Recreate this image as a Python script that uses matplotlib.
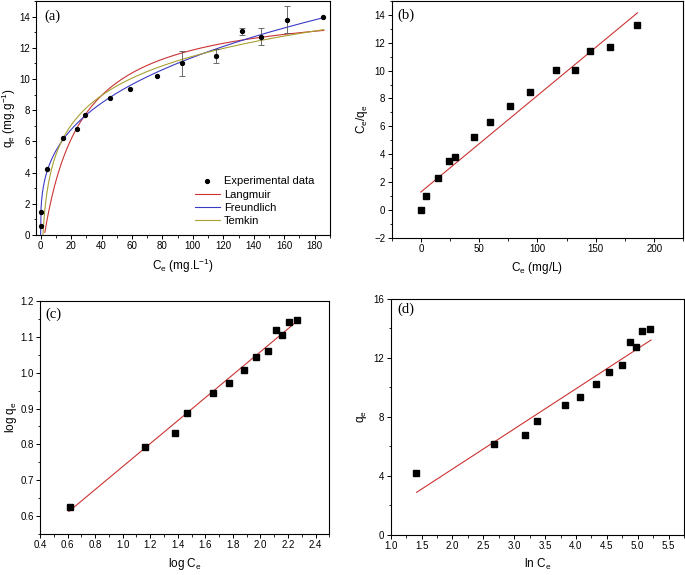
import numpy as np
import matplotlib
matplotlib.use("Agg")
import matplotlib.pyplot as plt
from matplotlib.ticker import MultipleLocator, FormatStrFormatter

plt.rcParams['font.family'] = ['Liberation Sans', 'DejaVu Sans']
plt.rcParams['mathtext.default'] = 'regular'

# (a) equilibrium data
ce = [0.1, 0.2, 4.1, 14.5, 24.0, 29.3, 45.5, 59.0, 76.5, 93.0, 115.5, 132.0, 145.0, 161.5, 185.5]
qe = [1.45, 0.6, 4.2, 6.2, 6.8, 7.7, 8.75, 9.35, 10.2, 11.0, 11.5, 13.05, 12.7, 13.8, 13.95]
qe_err = [0, 0, 0, 0, 0, 0, 0, 0, 0, 0.8, 0.45, 0.2, 0.55, 0.85, 0]

# fitted model parameters
lang_q, lang_k, lang_c0 = 14.9, 0.040, 2.5
freu_k, freu_n = 2.55, 0.325
temk_b, temk_k = 2.75, 0.645

# (b) Langmuir linear plot
ce_b = [0.0, 4.3, 14.6, 24.3, 29.7, 46.0, 59.4, 76.6, 93.4, 115.7, 132.0, 145.4, 162.0, 185.7]
ceqe_b = [0.0, 0.97, 2.32, 3.52, 3.77, 5.21, 6.30, 7.48, 8.45, 10.02, 10.07, 11.42, 11.68, 13.25]
fit_b = (0.0693, 1.28)
range_b = (0.0, 185.7)

# (c) Freundlich linear plot
logce_c = [0.615, 1.16, 1.379, 1.466, 1.654, 1.770, 1.881, 1.966, 2.057, 2.115, 2.159, 2.204, 2.267]
logqe_c = [0.626, 0.793, 0.833, 0.887, 0.944, 0.972, 1.008, 1.043, 1.061, 1.118, 1.105, 1.141, 1.147]
fit_c = (0.3204, 0.4176)
range_c = (0.61, 2.255)

# (d) Temkin linear plot
lnce_d = [1.414, 2.670, 3.175, 3.374, 3.820, 4.072, 4.33, 4.528, 4.738, 4.872, 4.964, 5.071, 5.205]
qe_d = [4.23, 6.19, 6.80, 7.73, 8.79, 9.36, 10.21, 11.05, 11.53, 13.11, 12.75, 13.83, 13.99]
fit_d = (2.721, -0.971)
range_d = (1.419, 5.216)

RED = '#cc3333'
BLUE = '#3b3bc4'
OLIVE = '#a8a032'


def style_ax(ax):
    ax.tick_params(which='both', direction='out', top=False, right=False, labelsize=7, pad=1.5)
    ax.tick_params(which='major', length=3, width=0.7)
    ax.tick_params(which='minor', length=1.8, width=0.6)
    for s in ax.spines.values():
        s.set_linewidth(0.8)


def panel_label(ax, txt, x, y):
    ax.text(x, y, txt, transform=ax.transAxes, fontsize=10.5, family='Liberation Serif',
            ha='left', va='center')


fig = plt.figure(figsize=(6.85, 5.75), dpi=100)

# ---- (a)
ax = fig.add_axes([0.0526, 0.5913, 0.429, 0.407])
x = np.linspace(0, 186, 600)
xl = np.clip(x - lang_c0, 0, None)
y_l = lang_q * lang_k * xl / (1 + lang_k * xl)
y_f = freu_k * x ** freu_n
xt = x[x >= 1.0 / temk_k]
y_t = temk_b * np.log(temk_k * xt)
ax.plot(x[x >= lang_c0], y_l[x >= lang_c0], color=RED, lw=0.8, label='Langmuir')
ax.plot(x, y_f, color=BLUE, lw=0.8, label='Freundlich')
ax.plot(xt, y_t, color=OLIVE, lw=0.8, label='Temkin')
err = np.array(qe_err)
m = err > 0
ax.errorbar(np.array(ce)[m], np.array(qe)[m], yerr=err[m], fmt='none', ecolor='#555555',
            elinewidth=0.6, capsize=2, capthick=0.6)
ax.plot(ce, qe, 'o', color='black', ms=2.8, label='Experimental data', zorder=5)
ax.set_xlim(-3, 190)
ax.set_ylim(0, 15)
ax.xaxis.set_major_locator(MultipleLocator(20))
ax.xaxis.set_minor_locator(MultipleLocator(10))
ax.yaxis.set_major_locator(MultipleLocator(2))
ax.yaxis.set_minor_locator(MultipleLocator(1))
ax.set_xlabel('C$_e$ (mg.L$^{-1}$)', fontsize=8.5, labelpad=4)
ax.set_ylabel('q$_e$ (mg.g$^{-1}$)', fontsize=8.5, labelpad=1)
style_ax(ax)
h, lab = ax.get_legend_handles_labels()
order = [3, 0, 1, 2]
ax.legend([h[i] for i in order], [lab[i] for i in order], loc='lower right', frameon=False,
          fontsize=8, handlelength=2.2, handletextpad=0.4, borderaxespad=0, borderpad=0.2,
          labelspacing=0.28, bbox_to_anchor=(0.955, 0.03))
panel_label(ax, '(a)', 0.027, 0.936)

# ---- (b)
ax = fig.add_axes([0.5718, 0.5866, 0.4257, 0.4117])
xb = np.linspace(*range_b, 50)
ax.plot(xb, fit_b[0] * xb + fit_b[1], color=RED, lw=0.8)
ax.plot(ce_b, ceqe_b, 's', color='black', ms=4)
ax.set_xlim(-25, 225)
ax.set_ylim(-2, 15)
ax.xaxis.set_major_locator(MultipleLocator(50))
ax.xaxis.set_minor_locator(MultipleLocator(25))
ax.yaxis.set_major_locator(MultipleLocator(2))
ax.yaxis.set_minor_locator(MultipleLocator(1))
ax.set_xlabel('C$_e$ (mg/L)', fontsize=8.5, labelpad=4)
ax.set_ylabel('C$_e$/q$_e$', fontsize=8.5, labelpad=3)
style_ax(ax)
panel_label(ax, '(b)', 0.018, 0.94)

# ---- (c)
ax = fig.add_axes([0.0584, 0.0713, 0.4223, 0.4052])
xc = np.linspace(*range_c, 50)
ax.plot(xc, fit_c[0] * xc + fit_c[1], color=RED, lw=0.8)
ax.plot(logce_c, logqe_c, 's', color='black', ms=4)
ax.set_xlim(0.4, 2.5)
ax.set_ylim(0.55, 1.2)
ax.xaxis.set_major_locator(MultipleLocator(0.2))
ax.xaxis.set_minor_locator(MultipleLocator(0.1))
ax.yaxis.set_major_locator(MultipleLocator(0.1))
ax.yaxis.set_minor_locator(MultipleLocator(0.05))
ax.xaxis.set_major_formatter(FormatStrFormatter('%.1f'))
ax.yaxis.set_major_formatter(FormatStrFormatter('%.1f'))
ax.set_xlabel('log C$_e$', fontsize=8.5, labelpad=4)
ax.set_ylabel('log q$_e$', fontsize=8.5, labelpad=1)
style_ax(ax)
panel_label(ax, '(c)', 0.017, 0.944)

# ---- (d)
ax = fig.add_axes([0.5704, 0.0696, 0.4282, 0.4104])
xd = np.linspace(*range_d, 50)
ax.plot(xd, fit_d[0] * xd + fit_d[1], color=RED, lw=0.8)
ax.plot(lnce_d, qe_d, 's', color='black', ms=4)
ax.set_xlim(1.0, 5.75)
ax.set_ylim(0, 16)
ax.xaxis.set_major_locator(MultipleLocator(0.5))
ax.xaxis.set_minor_locator(MultipleLocator(0.25))
ax.yaxis.set_major_locator(MultipleLocator(4))
ax.yaxis.set_minor_locator(MultipleLocator(2))
ax.xaxis.set_major_formatter(FormatStrFormatter('%.1f'))
ax.set_xlabel('ln C$_e$', fontsize=8.5, labelpad=4)
ax.set_ylabel('q$_e$', fontsize=8.5, labelpad=3)
style_ax(ax)
panel_label(ax, '(d)', 0.022, 0.955)

fig.savefig('out.png', dpi=100)
